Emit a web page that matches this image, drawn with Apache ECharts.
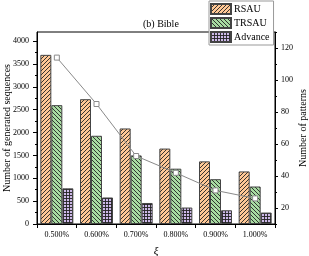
<!DOCTYPE html>
<html>
<head>
<meta charset="utf-8">
<script src="https://cdn.jsdelivr.net/npm/echarts@6/dist/echarts.min.js"></script>
<style>
html,body{margin:0;padding:0;background:#fff;}
#chart{width:309px;height:256px;}
</style>
</head>
<body>
<div id="chart"></div>
<script>
const categories = ['0.500%','0.600%','0.700%','0.800%','0.900%','1.000%'];
const rsau = [3700, 2730, 2090, 1650, 1370, 1150];
const trsau = [2600, 1930, 1500, 1210, 980, 820];
const advance = [780, 580, 460, 360, 300, 250];
const patterns = [114, 85, 52.5, 42, 31, 26];
const leftTicks = [0,500,1000,1500,2000,2500,3000,3500,4000];
const rightTicks = [20,40,60,80,100,120];
const rightMinorTicks = [10,30,50,70,90,110,130];

function makePattern(bg, kind) {
  const s = kind === 'grid' ? 3 : 4;
  const c = document.createElement('canvas');
  c.width = s; c.height = s;
  const g = c.getContext('2d');
  g.fillStyle = bg; g.fillRect(0,0,s,s);
  g.strokeStyle = '#222'; g.lineWidth = 0.9;
  g.beginPath();
  if (kind === 'fwd') {
    g.moveTo(-1, s+1); g.lineTo(s+1, -1);
    g.moveTo(-1, 1); g.lineTo(1, -1);
    g.moveTo(s-1, s+1); g.lineTo(s+1, s-1);
  } else if (kind === 'back') {
    g.moveTo(-1, -1); g.lineTo(s+1, s+1);
    g.moveTo(s-1, -1); g.lineTo(s+1, 1);
    g.moveTo(-1, s-1); g.lineTo(1, s+1);
  } else {
    g.moveTo(0.5, 0); g.lineTo(0.5, s);
    g.moveTo(0, 0.5); g.lineTo(s, 0.5);
  }
  g.stroke();
  return {image: c, repeat: 'repeat'};
}

const serif = 'Liberation Serif';
const chart = echarts.init(document.getElementById('chart'), null, {renderer: 'canvas'});

const barStyle = (bg, kind) => ({
  color: makePattern(bg, kind),
  borderColor: '#444',
  borderWidth: 1
});
const plain = v => String(v);

chart.setOption({
  animation: false,
  backgroundColor: '#fff',
  title: {
    text: '(b) Bible',
    left: 138, top: 14,
    textStyle: {fontFamily: serif, fontSize: 10, fontWeight: 'normal', color: '#000'}
  },
  legend: {
    data: ['RSAU','TRSAU','Advance'],
    orient: 'vertical',
    left: 209, top: 1,
    itemWidth: 20, itemHeight: 10, itemGap: 2,
    padding: [2, 4, 2, 1],
    borderColor: '#999', borderWidth: 1,
    backgroundColor: '#fff',
    textStyle: {fontFamily: serif, fontSize: 10, color: '#000', padding: [0,0,0,-2]},
    icon: 'rect',
    z: 10
  },
  grid: {
    left: 37, right: 34, top: 32, bottom: 32,
    containLabel: false,
    outerBoundsMode: 'none',
    show: true, borderColor: '#000', borderWidth: 1
  },
  xAxis: {
    type: 'category',
    data: categories,
    name: 'ξ',
    nameLocation: 'middle',
    nameGap: 22,
    nameMoveOverlap: false,
    nameTextStyle: {fontFamily: serif, fontSize: 11, fontStyle: 'italic', color: '#000', verticalAlign: 'top'},
    axisLine: {lineStyle: {color: '#000', width: 1}},
    axisTick: {show: true, length: 4, lineStyle: {color: '#000'}},
    axisLabel: {fontFamily: serif, fontSize: 8, color: '#000', margin: 7}
  },
  yAxis: [
    {
      type: 'value',
      min: 0, max: 4200, interval: 500,
      position: 'left',
      name: 'Number of generated sequences',
      nameLocation: 'middle',
      nameGap: 25,
      nameMoveOverlap: false,
      nameTextStyle: {fontFamily: serif, fontSize: 10, color: '#000'},
      axisLine: {show: true, lineStyle: {color: '#000'}},
      axisTick: {show: true, length: 4, lineStyle: {color: '#000'}, customValues: leftTicks},
      minorTick: {show: true, splitNumber: 2, length: 2, lineStyle: {color: '#000'}},
      axisLabel: {fontFamily: serif, fontSize: 8, color: '#000', margin: 8, customValues: leftTicks, formatter: plain},
      splitLine: {show: false}
    },
    {
      type: 'value',
      min: 10, max: 130,
      position: 'right',
      name: 'Number of patterns',
      nameLocation: 'middle',
      nameRotate: 90,
      nameGap: 23,
      nameMoveOverlap: false,
      nameTextStyle: {fontFamily: serif, fontSize: 10, color: '#000'},
      axisLine: {show: true, lineStyle: {color: '#000'}},
      axisTick: {show: true, length: 3, lineStyle: {color: '#000'}, customValues: rightTicks},
      axisLabel: {fontFamily: serif, fontSize: 8, color: '#000', margin: 6, customValues: rightTicks, formatter: plain},
      splitLine: {show: false}
    },
    {
      type: 'value',
      min: 10, max: 130,
      position: 'right',
      axisLine: {show: false},
      axisTick: {show: true, length: 2, lineStyle: {color: '#000'}, customValues: rightMinorTicks},
      axisLabel: {show: false, customValues: rightMinorTicks},
      splitLine: {show: false}
    }
  ],
  series: [
    {
      name: 'RSAU', type: 'bar', data: rsau,
      barWidth: 11, barGap: '0%',
      itemStyle: barStyle('#FFC896', 'fwd')
    },
    {
      name: 'TRSAU', type: 'bar', data: trsau,
      barWidth: 11, barGap: '0%',
      itemStyle: barStyle('#A8DCA2', 'back')
    },
    {
      name: 'Advance', type: 'bar', data: advance,
      barWidth: 11, barGap: '0%',
      itemStyle: barStyle('#CDB9E8', 'grid')
    },
    {
      name: 'Patterns', type: 'line', yAxisIndex: 1, data: patterns,
      symbol: 'rect', symbolSize: 5,
      lineStyle: {color: '#8a8a8a', width: 1},
      itemStyle: {color: '#fff', borderColor: '#8a8a8a', borderWidth: 1},
      z: 5
    }
  ]
});
</script>
</body>
</html>
